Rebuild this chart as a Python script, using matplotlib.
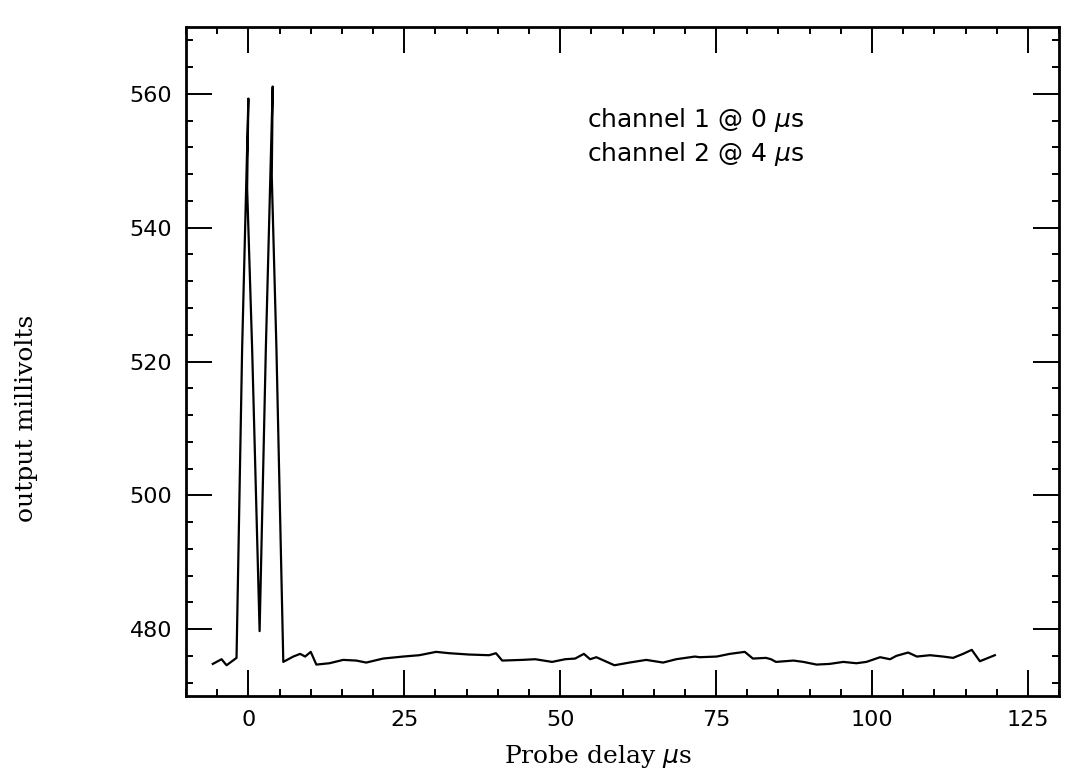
import numpy as np
import matplotlib.pyplot as plt
from matplotlib.ticker import MultipleLocator

# probe delay (us) and output (mV)
delay = [-5.7, -4.3, -3.5, -1.9, -1.0, 0.0, -0.2, 0.6, 1.8, 2.8, 3.9, 3.75, 4.5, 5.6,
         7.2, 8.3, 9.1, 10.0, 10.9, 13.0, 15.2, 17.3, 18.9, 21.6, 24.8, 27.4, 30.1,
         32.2, 35.4, 38.6, 39.7, 40.7, 43.9, 46.0, 48.7, 50.8, 52.4, 53.8, 54.8, 55.8,
         58.7, 61.1, 63.8, 66.5, 68.6, 71.6, 72.4, 75.1, 77.2, 79.6, 80.9, 83.0, 83.8,
         84.6, 87.4, 89.0, 91.1, 93.2, 95.4, 97.5, 99.1, 101.3, 102.9, 103.9, 105.8,
         107.2, 109.3, 111.4, 113.0, 114.6, 116.0, 117.3, 119.7]
millivolts = [474.8, 475.5, 474.6, 475.7, 522.0, 559.3, 545.9, 522.0, 479.7, 521.9, 561.1, 547.7, 521.9, 475.1,
              475.9, 476.3, 475.9, 476.6, 474.7, 474.9, 475.4, 475.3, 475.0, 475.6, 475.9, 476.1, 476.6,
              476.4, 476.2, 476.1, 476.4, 475.3, 475.4, 475.5, 475.1, 475.5, 475.6, 476.3, 475.5, 475.8,
              474.6, 475.0, 475.4, 475.0, 475.5, 475.9, 475.8, 475.9, 476.3, 476.6, 475.6, 475.7, 475.5,
              475.1, 475.3, 475.1, 474.7, 474.8, 475.1, 474.9, 475.1, 475.8, 475.5, 476.0, 476.5,
              475.9, 476.1, 475.9, 475.7, 476.3, 476.9, 475.2, 476.1]

notes = ['channel 1 @ 0 $\\mu$s', 'channel 2 @ 4 $\\mu$s']

plt.rcParams['mathtext.fontset'] = 'dejavusans'

fig = plt.figure(figsize=(10.66, 7.69), dpi=100)
ax = fig.add_axes([0.1745, 0.0949, 0.819, 0.870])

ax.plot(delay, millivolts, color='black', lw=1.6)

ax.set_xlim(-10, 130)
ax.set_ylim(470, 570)
ax.xaxis.set_major_locator(MultipleLocator(25))
ax.xaxis.set_minor_locator(MultipleLocator(5))
ax.yaxis.set_major_locator(MultipleLocator(20))
ax.yaxis.set_minor_locator(MultipleLocator(4))
ax.tick_params(which='both', direction='in', top=True, right=True, width=1.4)
ax.tick_params(which='major', length=19, labelsize=16, pad=10)
ax.tick_params(which='minor', length=5)
for s in ax.spines.values():
    s.set_linewidth(2)

ax.set_xlabel('Probe delay $\\mu$s', family='DejaVu Serif', fontsize=18)
ax.set_ylabel('output millivolts', family='DejaVu Serif', fontsize=18)
ax.xaxis.set_label_coords(0.472, -0.070)
ax.yaxis.set_label_coords(-0.1695, 0.4155)

ax.text(54.3, 555.0, notes[0], fontsize=18, va='baseline')
ax.text(54.3, 549.9, notes[1], fontsize=18, va='baseline')

fig.savefig('out.png', dpi=100)
